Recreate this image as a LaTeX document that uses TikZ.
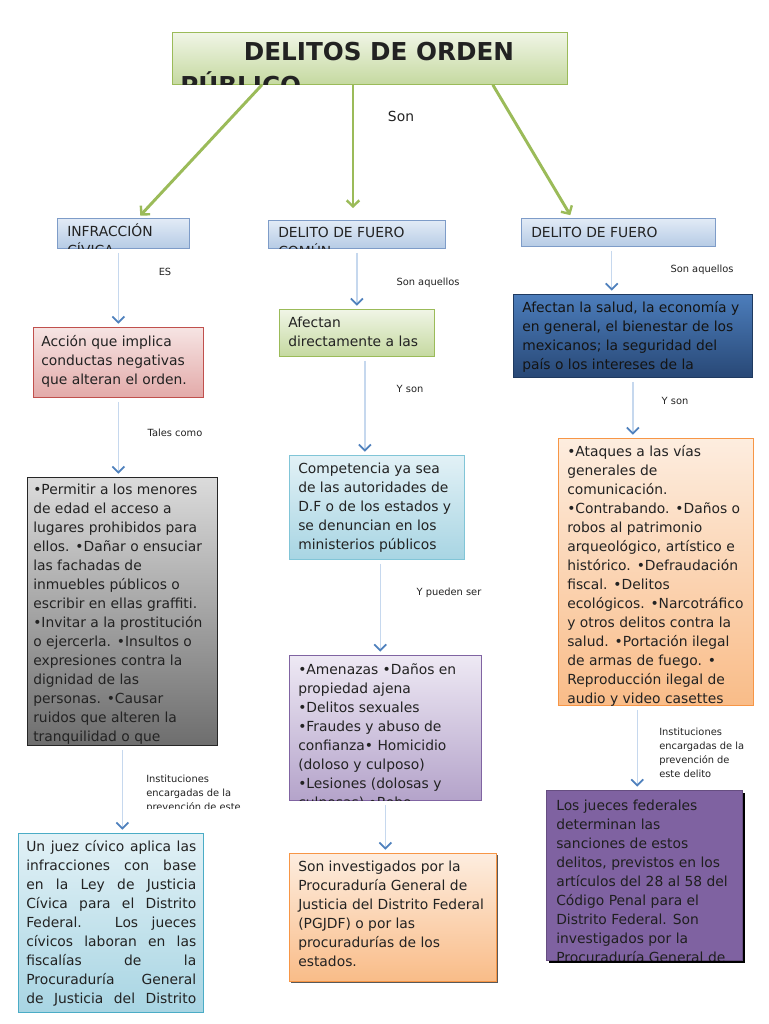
\documentclass[tikz,border=0pt]{standalone}
\usepackage{fontspec}
\setmainfont{DejaVu Sans}
\usepackage{xcolor}
\usepackage{tikz}
\usetikzlibrary{arrows.meta,positioning,calc,shadows}
\definecolor{Ink}{HTML}{222222}
\definecolor{Leaf}{HTML}{9BBB59}
\definecolor{LeafTop}{HTML}{F0F5E6}
\definecolor{LeafBot}{HTML}{C5D9A0}
\definecolor{SkyTop}{HTML}{E2EBF6}
\definecolor{SkyBot}{HTML}{B6CBE5}
\definecolor{SkyLine}{HTML}{7E9CC8}
\definecolor{RoseTop}{HTML}{F6E4E3}
\definecolor{RoseBot}{HTML}{E3AAA9}
\definecolor{RoseLine}{HTML}{C0504D}
\definecolor{AquaTop}{HTML}{E2F1F6}
\definecolor{AquaBot}{HTML}{A8D5E3}
\definecolor{AquaLine}{HTML}{4BACC6}
\definecolor{LilacTop}{HTML}{EEE9F4}
\definecolor{LilacBot}{HTML}{B4A3CA}
\definecolor{LilacLine}{HTML}{8064A2}
\definecolor{PeachTop}{HTML}{FDEDDF}
\definecolor{PeachBot}{HTML}{F9BC88}
\definecolor{PeachLine}{HTML}{F79646}
\definecolor{NavyTop}{HTML}{4C7DBB}
\definecolor{NavyBot}{HTML}{284876}
\definecolor{NavyLine}{HTML}{1F3A60}
\definecolor{Plum}{HTML}{7F62A1}
\definecolor{Wire}{HTML}{C6D8EE}
\definecolor{Tip}{HTML}{4F81BD}
\newcommand\bodysize{\fontsize{10.4}{14.25}\selectfont}
\newcommand\labsize{\fontsize{7.4}{10.5}\selectfont}
\newcommand\titlesize{\fontsize{18.5}{22}\selectfont}
\tikzset{
  card/.style={rectangle, anchor=north west, inner sep=0pt, line width=.6pt},
  cardLeaf/.style={card, draw=Leaf, top color=LeafTop, bottom color=LeafBot},
  cardSky/.style={card, draw=SkyLine, top color=SkyTop, bottom color=SkyBot},
  cardRose/.style={card, draw=RoseLine, top color=RoseTop, bottom color=RoseBot},
  cardGrey/.style={card, draw=black!85, top color=black!14, bottom color=black!57},
  cardAqua/.style={card, draw=AquaLine, top color=AquaTop, bottom color=AquaBot},
  cardLilac/.style={card, draw=LilacLine, top color=LilacTop, bottom color=LilacBot},
  cardPeach/.style={card, draw=PeachLine, top color=PeachTop, bottom color=PeachBot},
  cardNavy/.style={card, draw=NavyLine, top color=NavyTop, bottom color=NavyBot},
  cardPlum/.style={card, draw=Plum!80!black, fill=Plum},
  txt/.style={font=\bodysize, text=Ink, align=left, inner sep=0pt, anchor=north west,
    execute at begin node=\strut},
  head/.style={font=\titlesize\bfseries, text=Ink, inner sep=0pt, anchor=base},
  lab/.style={font=\labsize, text=Ink, inner sep=0pt},
  labBlock/.style={lab, align=left, anchor=north west, execute at begin node=\strut},
  link/.style={draw=Wire, line width=.9pt, shorten <=3pt, shorten >=2.5pt,
    -{Straight Barb[length=4.5pt,width=9pt,line width=1.3pt,color=Tip]}},
  trunk/.style={draw=Leaf, line width=2.2pt, shorten >=2.5pt,
    -{Straight Barb[length=4.5pt,width=9.5pt,line width=1.8pt]}}
}

\begin{document}
\begin{tikzpicture}[x=0.75pt,y=-0.75pt]
  \fill[white] (0,0) rectangle (768,1024);
  \useasboundingbox (0,0) rectangle (768,1024);

  % titulo
  \node[cardLeaf,minimum width=296.25pt,minimum height=39pt] (top) at (172,32) {};
  \begin{scope}
    \clip (top.south west) rectangle (top.north east);
    \node[head] (topA) at (379,61) {DELITOS DE ORDEN};
    \node[head,anchor=base west] (topB) at (180,94) {PÚBLICO};
  \end{scope}
  \node[font=\bodysize,text=Ink,inner sep=0pt] (son) at (401,116) {Son};

  % tres clases
  \node[cardSky,minimum width=99pt,minimum height=22.5pt] (infr) at (57,218) {};
  \node[cardSky,minimum width=132.75pt,minimum height=21pt] (comun) at (268,220) {};
  \node[cardSky,minimum width=145.5pt,minimum height=21pt] (fed) at (521,218) {};
  \begin{scope}
    \clip (infr.south west) rectangle (infr.north east);
    \node[txt] (infrT) at ($(infr.north west)+(10,5.8)$) {INFRACCIÓN\\CÍVICA};
  \end{scope}
  \begin{scope}
    \clip (comun.south west) rectangle (comun.north east);
    \node[txt] (comunT) at ($(comun.north west)+(10,7)$) {DELITO DE FUERO\\COMÚN};
  \end{scope}
  \node[txt] (fedT) at ($(fed.north west)+(10,5.8)$) {DELITO DE FUERO};

  \draw[trunk] ($(top.south west)+(90,0)$) -- ($(infr.north west)+(81,0)$);
  \draw[trunk,shorten >=9pt] ($(top.south west)+(181,0)$) -- ($(comun.north west)+(85,0)$);
  \draw[trunk] ($(top.south east)+(-75,0)$) -- ($(fed.north west)+(51,0)$);

  % columna infraccion civica
  \node[cardRose,minimum width=127.5pt,minimum height=52.5pt] (acc) at (33,327) {};
  \node[txt] (accT) at ($(acc.north west)+(8,8)$) {Acción que implica\\conductas negativas\\que alteran el orden.};

  \node[cardGrey,minimum width=142.5pt,minimum height=201pt] (gris) at (27,477) {};
  \begin{scope}
    \clip (gris.south west) rectangle (gris.north east);
    \node[txt] (grisT) at ($(gris.north west)+(6,7)$) {•Permitir a los menores\\de edad el acceso a\\lugares prohibidos para\\ellos. •Dañar o ensuciar\\las fachadas de\\inmuebles públicos o\\escribir en ellas graffiti.\\•Invitar a la prostitución\\o ejercerla. •Insultos o\\expresiones contra la\\dignidad de las\\personas. •Causar\\ruidos que alteren la\\tranquilidad o que};
  \end{scope}

  \node[cardAqua,minimum width=138.75pt,minimum height=134.25pt] (juez) at (18,833) {};
  \node[txt] (juezT) at ($(juez.north west)+(8,7.5)$) {%
    \makebox[127.5pt][s]{Un juez cívico aplica las}\\
    \makebox[127.5pt][s]{infracciones con base}\\
    \makebox[127.5pt][s]{en la Ley de Justicia}\\
    \makebox[127.5pt][s]{Cívica para el Distrito}\\
    \makebox[127.5pt][s]{Federal. Los jueces}\\
    \makebox[127.5pt][s]{cívicos laboran en las}\\
    \makebox[127.5pt][s]{fiscalías de la}\\
    \makebox[127.5pt][s]{Procuraduría General}\\
    \makebox[127.5pt][s]{de Justicia del Distrito}};

  \draw[link] (acc.north |- infr.south) -- (acc.north);
  \draw[link] (acc.south) -- (acc.south |- gris.north);
  \draw[link] (gris.south) -- (gris.south |- juez.north);
  \node[lab] (es) at (165,272) {ES};
  \node[lab] (tales) at (175,433) {Tales como};
  \begin{scope}
    \clip (140,760) rectangle (260,808);
    \node[labBlock] (inst1) at (146,775) {Instituciones\\encargadas de la\\prevención de este};
  \end{scope}

  % columna fuero comun
  \node[cardLeaf,minimum width=116.25pt,minimum height=35.25pt] (afe) at (279,309) {};
  \node[txt] (afeT) at ($(afe.north west)+(9,7.5)$) {Afectan\\directamente a las};

  \node[cardAqua,draw=AquaLine!70,minimum width=131.25pt,minimum height=78pt] (comp) at (289,455) {};
  \node[txt] (compT) at ($(comp.north west)+(9,7.5)$) {Competencia ya sea\\de las autoridades de\\D.F o de los estados y\\se denuncian en los\\ministerios públicos};

  \node[cardLilac,minimum width=144pt,minimum height=108.75pt] (amen) at (289,655) {};
  \begin{scope}
    \clip (amen.south west) rectangle (amen.north east);
    \node[txt] (amenT) at ($(amen.north west)+(9,8.5)$) {•Amenazas •Daños en\\propiedad ajena\\•Delitos sexuales\\•Fraudes y abuso de\\confianza• Homicidio\\(doloso y culposo)\\•Lesiones (dolosas y\\culposas) •Robo};
  \end{scope}

  \node[cardPeach,minimum width=155.25pt,minimum height=96pt,
    drop shadow={shadow xshift=1.5pt,shadow yshift=-1.5pt,fill=black!65,opacity=1}] (proc) at (289,853) {};
  \node[txt] (procT) at ($(proc.north west)+(9,7.5)$) {Son investigados por la\\Procuraduría General de\\Justicia del Distrito Federal\\(PGJDF) o por las\\procuradurías de los\\estados.};

  \draw[link] (afe.north |- comun.south) -- (afe.north);
  \draw[link] ([xshift=6pt]afe.south) -- ([xshift=6pt]afe.south |- comp.north);
  \draw[link] ([xshift=2.5pt]comp.south) -- ([xshift=2.5pt]comp.south |- amen.north);
  \draw[link] (amen.south) -- (amen.south |- proc.north);
  \node[lab] (aq1) at (428,283) {Son aquellos};
  \node[lab] (yson1) at (410,389) {Y son};
  \node[lab] (ypue) at (449,593) {Y pueden ser};

  % columna fuero federal
  \node[cardNavy,minimum width=179.25pt,minimum height=62.25pt] (afs) at (513,294) {};
  \node[txt,text=black!92] (afsT) at ($(afs.north west)+(9,7.5)$) {Afectan la salud, la economía y\\en general, el bienestar de los\\mexicanos; la seguridad del\\país o los intereses de la};

  \node[cardPeach,minimum width=146.25pt,minimum height=200.25pt] (ata) at (558,438) {};
  \begin{scope}
    \clip (ata.south west) rectangle (ata.north east);
    \node[txt] (ataT) at ($(ata.north west)+(9,7.2)$) {•Ataques a las vías\\generales de\\comunicación.\\•Contrabando. •Daños o\\robos al patrimonio\\arqueológico, artístico e\\histórico. •Defraudación\\fiscal. •Delitos\\ecológicos. •Narcotráfico\\y otros delitos contra la\\salud. •Portación ilegal\\de armas de fuego. •\\Reproducción ilegal de\\audio y video casettes};
  \end{scope}

  \node[cardPlum,minimum width=147pt,minimum height=127.5pt,
    drop shadow={shadow xshift=2pt,shadow yshift=-2pt,fill=black,opacity=1}] (jf) at (546,790) {};
  \begin{scope}
    \clip (jf.south west) rectangle (jf.north east);
    \node[txt,text=black!88] (jfT) at ($(jf.north west)+(10,9.5)$) {Los jueces federales\\determinan las\\sanciones de estos\\delitos, previstos en los\\artículos del 28 al 58 del\\Código Penal para el\\Distrito Federal. Son\\investigados por la\\Procuraduría General de};
  \end{scope}

  \draw[link] ([xshift=-5pt]fed.south) -- ([xshift=-5pt]fed.south |- afs.north);
  \draw[link] (afs.south) -- (afs.south |- ata.north);
  \draw[link] ([xshift=-14pt]ata.south) -- ([xshift=-14pt]ata.south |- jf.north);
  \node[lab] (aq2) at (702,270) {Son aquellos};
  \node[lab] (yson2) at (675,401) {Y son};
  \node[labBlock] (inst2) at (659,728) {Instituciones\\encargadas de la\\prevención de\\este delito};
\end{tikzpicture}
\end{document}
